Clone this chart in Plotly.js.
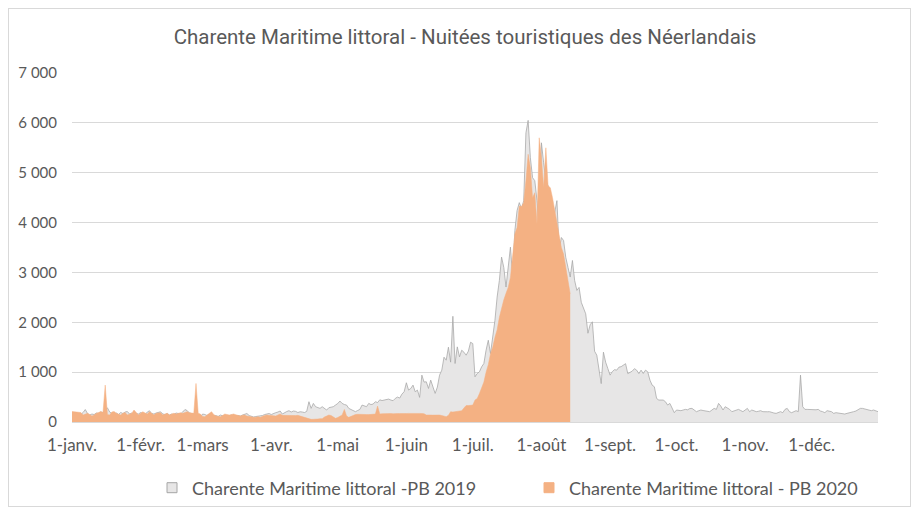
<!DOCTYPE html>
<html><head><meta charset="utf-8">
<script src="https://cdn.plot.ly/plotly-3.0.1.min.js"></script>
<style>
html,body{margin:0;padding:0;background:#fff;}
#wrap{position:relative;width:917px;height:513px;overflow:hidden;}
#chart{width:917px;height:513px;}
#frame{position:absolute;left:8px;top:8px;width:901px;height:497px;border:1px solid #d9d9d9;pointer-events:none;}
</style></head><body>
<div id="wrap"><div id="chart"></div><div id="frame"></div></div>
<script>
const chartTitle = 'Charente Maritime littoral - Nuitées touristiques des Néerlandais';
const seriesNames = ['Charente Maritime littoral -PB 2019', 'Charente Maritime littoral - PB 2020'];
const monthTickDays = [0, 31, 59, 90, 120, 151, 181, 212, 243, 273, 304, 334];
const monthLabels = ['1-janv.', '1-févr.', '1-mars', '1-avr.', '1-mai', '1-juin', '1-juil.', '1-août', '1-sept.', '1-oct.', '1-nov.', '1-déc.'];
const yTickVals = [0, 1000, 2000, 3000, 4000, 5000, 6000, 7000];
const yTickText = ['0', '1 000', '2 000', '3 000', '4 000', '5 000', '6 000', '7 000'];

const nuitees2019 = [
  90, 110, 120, 60, 150, 190, 250, 170, 140, 160,
  150, 180, 170, 200, 190, 240, 285, 200, 170, 160,
  180, 150, 190, 170, 200, 210, 160, 180, 150, 170,
  160, 190, 175, 150, 200, 225, 170, 160, 180, 200,
  205, 160, 150, 170, 140, 160, 150, 180, 170, 160,
  200, 250, 230, 180, 170, 160, 150, 140, 90, 160,
  150, 130, 160, 140, 120, 130, 110, 140, 120, 110,
  130, 120, 140, 120, 110, 130, 120, 140, 150, 170,
  130, 110, 100, 110, 115, 120, 130, 150, 160, 170,
  150, 175, 187, 200, 220, 160, 190, 210, 227, 200,
  220, 213, 190, 205, 200, 190, 213, 407, 273, 373,
  307, 290, 273, 307, 280, 240, 287, 300, 307, 340,
  370, 420, 373, 350, 340, 273, 255, 240, 207, 230,
  253, 340, 320, 307, 373, 350, 360, 407, 390, 445,
  430, 435, 440, 460, 440, 427, 473, 500, 480, 560,
  607, 787, 640, 673, 740, 607, 640, 493, 940, 800,
  807, 673, 840, 707, 573, 700, 940, 1040, 1300, 1240,
  1500, 1200, 2120, 1173, 1507, 1307, 1440, 1400, 1340, 1420,
  1600, 1573, 907, 973, 1007, 1107, 1173, 1440, 1640, 1373,
  1707, 2040, 2507, 2840, 3307, 3100, 2707, 3173, 3507, 2907,
  3840, 4240, 4400, 4280, 4440, 5800, 6050, 5300, 4900, 4840,
  4440, 3900, 5600, 5200, 4840, 4740, 4450, 3970, 4240, 4440,
  3440, 3700, 3640, 3300, 3100, 2907, 3240, 2840, 2640, 2700,
  2400, 2300, 2170, 1780, 1950, 2010, 1420, 1340, 1010, 770,
  1400, 1200, 1070, 940, 1010, 1050, 1040, 1100, 1110, 1140,
  1170, 970, 1000, 1020, 1070, 1040, 970, 1040, 973, 1040,
  1007, 840, 740, 707, 473, 440, 440, 440, 407, 340,
  373, 273, 187, 240, 230, 227, 240, 253, 245, 270,
  273, 240, 207, 225, 240, 230, 227, 215, 207, 240,
  273, 253, 373, 320, 240, 307, 280, 253, 207, 220,
  227, 253, 230, 207, 240, 273, 207, 240, 225, 207,
  215, 227, 207, 200, 205, 207, 187, 180, 173, 190,
  207, 187, 253, 273, 207, 187, 200, 227, 207, 940,
  307, 253, 253, 250, 253, 240, 245, 253, 220, 207,
  187, 227, 215, 207, 173, 187, 180, 173, 165, 160,
  173, 180, 187, 207, 220, 240, 273, 273, 265, 253,
  240, 227, 240, 220, 207
];

const nuitees2020 = [
  210, 205, 210, 200, 190, 140, 160, 175, 150, 120,
  140, 175, 190, 210, 190, 740, 150, 140, 200, 210,
  175, 150, 140, 175, 190, 140, 160, 175, 240, 190,
  140, 175, 205, 180, 160, 205, 170, 140, 175, 185,
  187, 140, 160, 175, 140, 160, 175, 160, 170, 187,
  173, 190, 207, 187, 175, 173, 773, 173, 160, 110,
  107, 140, 173, 207, 150, 120, 115, 107, 130, 160,
  150, 140, 150, 160, 145, 130, 120, 135, 140, 120,
  107, 93, 95, 93, 107, 93, 120, 130, 140, 135,
  125, 120, 120, 140, 160, 133, 130, 133, 135, 130,
  133, 130, 133, 120, 107, 95, 80, 60, 53, 55,
  53, 60, 67, 67, 100, 120, 140, 130, 107, 73,
  90, 120, 140, 253, 120, 93, 110, 140, 150, 155,
  150, 148, 152, 150, 148, 155, 150, 160, 320, 160,
  165, 170, 168, 172, 170, 165, 175, 170, 168, 173,
  175, 170, 172, 175, 170, 173, 175, 172, 170, 165,
  140, 145, 140, 138, 140, 135, 140, 130, 120, 107,
  133, 207, 200, 207, 210, 215, 227, 280, 330, 330,
  330, 340, 440, 470, 570, 700, 800, 1000, 1150, 1370,
  1500, 1700, 1850, 2100, 2300, 2450, 2580, 2700, 2900, 3400,
  3770, 3900, 4330, 4320, 4400, 4840, 5370, 5100, 4500, 4600,
  3970, 5700, 5300, 4700, 5500, 4740, 4700, 4500, 4240, 3970,
  3700, 3500, 3370, 3100, 2840, 2570
];

const days2019 = nuitees2019.map((_, i) => i);
const days2020 = nuitees2020.map((_, i) => i);

const textColor = '#595959';
const baseFont = 'Lato, "Open Sans", sans-serif';

const traces = [
  {
    x: days2019, y: nuitees2019, type: 'scatter', mode: 'lines',
    fill: 'tozeroy', fillcolor: '#e7e6e6',
    line: {color: '#a6a6a6', width: 0.75}, showlegend: false, hoverinfo: 'skip'
  },
  {
    x: days2020, y: nuitees2020, type: 'scatter', mode: 'lines',
    fill: 'tozeroy', fillcolor: '#f4b183',
    line: {color: '#f4b183', width: 0.5}, showlegend: false, hoverinfo: 'skip'
  },
  {
    x: [null], y: [null], type: 'scatter', mode: 'markers', name: seriesNames[0],
    marker: {symbol: 'square', size: 10, color: '#e7e6e6', line: {color: '#a6a6a6', width: 1}}
  },
  {
    x: [null], y: [null], type: 'scatter', mode: 'markers', name: seriesNames[1],
    marker: {symbol: 'square', size: 10, color: '#f4b183', line: {color: '#f4b183', width: 1}}
  }
];

const layout = {
  width: 917, height: 513,
  margin: {l: 72, r: 39, t: 73, b: 91},
  paper_bgcolor: '#ffffff', plot_bgcolor: '#ffffff',
  font: {family: baseFont, color: textColor},
  title: {
    text: chartTitle,
    font: {family: 'Roboto, sans-serif', size: 20.5, color: textColor},
    xref: 'container', x: 465 / 917, xanchor: 'center',
    yref: 'container', y: 1 - 37 / 513, yanchor: 'middle'
  },
  xaxis: {
    range: [0, 364], tickmode: 'array', tickvals: monthTickDays, ticktext: monthLabels,
    tickfont: {family: baseFont, size: 17, color: textColor},
    showgrid: false, zeroline: false, showline: true, linecolor: '#d9d9d9', linewidth: 1,
    ticks: '', ticklabelstandoff: 8, fixedrange: true
  },
  yaxis: {
    range: [0, 7000], tickmode: 'array', tickvals: yTickVals, ticktext: yTickText,
    tickfont: {family: baseFont, size: 15, color: textColor},
    showgrid: true, gridcolor: '#d9d9d9', gridwidth: 1, zeroline: false, showline: false,
    ticks: '', ticklabelstandoff: 14, fixedrange: true
  },
  legend: {
    orientation: 'h', xref: 'container', x: 529 / 917, xanchor: 'center',
    yref: 'container', y: 1 - 488 / 513, yanchor: 'middle',
    font: {family: baseFont, size: 18, color: textColor},
    itemwidth: 30, traceorder: 'normal',
    entrywidth: 332, entrywidthmode: 'pixels'
  },
  showlegend: true
};

Plotly.newPlot('chart', traces, layout, {staticPlot: true, displayModeBar: false});
</script>
</body></html>
